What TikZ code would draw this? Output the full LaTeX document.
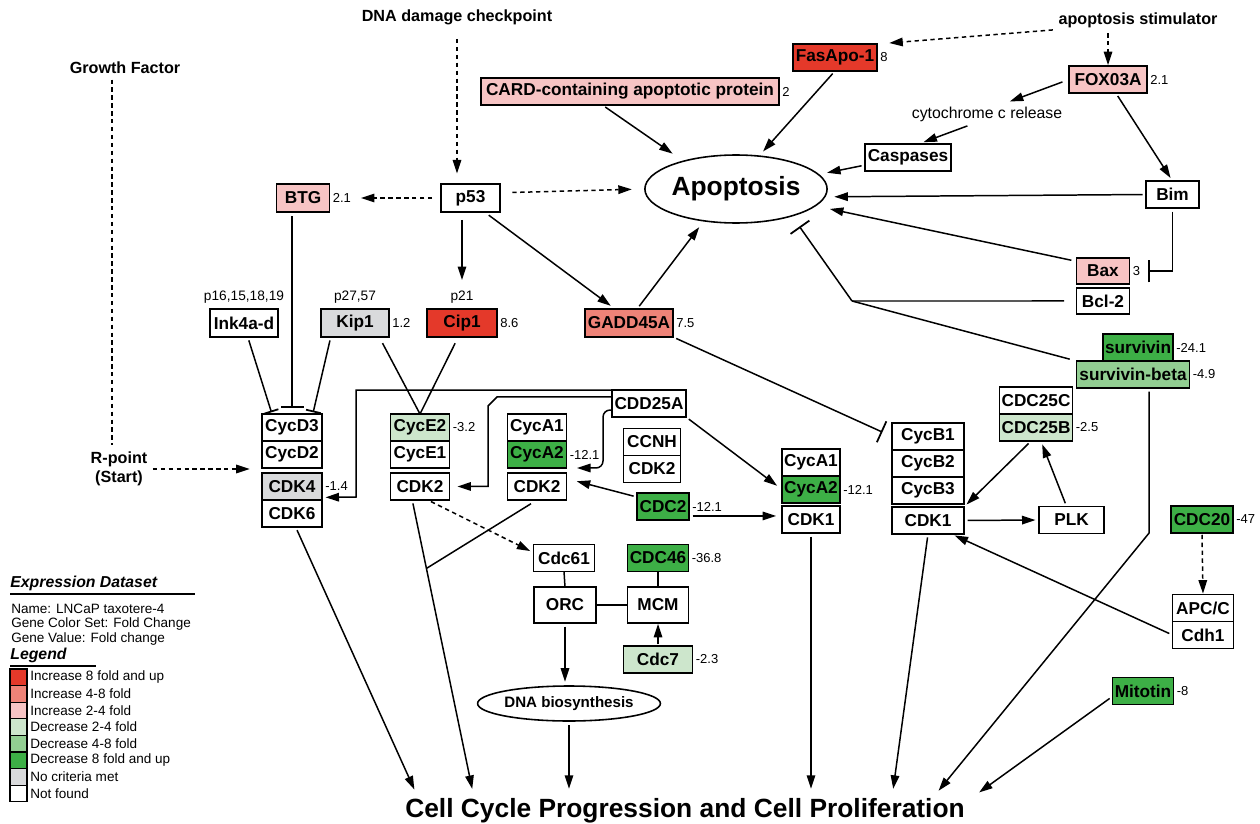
\documentclass[tikz,border=0pt]{standalone}
\usepackage{fontspec}
\setmainfont{Liberation Sans}
\usetikzlibrary{shapes.geometric, arrows.meta, positioning, calc}
\definecolor{upeight}{RGB}{228,57,42}
\definecolor{upfour}{RGB}{238,131,120}
\definecolor{uptwo}{RGB}{247,196,196}
\definecolor{downtwo}{RGB}{205,230,204}
\definecolor{downfour}{RGB}{146,206,146}
\definecolor{downeight}{RGB}{61,175,70}
\definecolor{nocrit}{RGB}{217,218,220}
\tikzset{
  gene/.style     = {rectangle, draw, line width=0.9pt, outer sep=0pt,
                     inner xsep=1pt, inner ysep=0pt, minimum height=0.54cm,
                     font=\fontsize{9.8}{11}\selectfont\bfseries},
  event/.style    = {ellipse, draw, line width=0.9pt, inner sep=0pt},
  cue/.style      = {inner sep=1pt, align=center,
                     font=\fontsize{9.2}{10.8}\selectfont\bfseries},
  note/.style     = {inner sep=1pt, font=\fontsize{9}{10}\selectfont},
  val/.style      = {inner sep=0.5pt, font=\fontsize{7.4}{8}\selectfont},
  tag/.style      = {inner sep=1pt, font=\fontsize{7.8}{9}\selectfont},
  arrow/.style    = {-{Triangle[length=2.7mm, width=1.7mm]}, line width=0.85pt,
                     shorten >=2pt, shorten <=2pt},
  darrow/.style   = {arrow, dash pattern=on 2.5pt off 2pt},
  link/.style     = {line width=0.85pt, shorten <=2pt},
  dline/.style    = {link, dash pattern=on 2.5pt off 2pt},
  inhibit/.style  = {-{Bar[width=4.6mm, line width=1pt]}, line width=0.85pt,
                     shorten >=2pt, shorten <=2pt},
  smallbar/.style = {inhibit, -{Bar[width=3mm, line width=1pt]}},
  swatch/.style   = {rectangle, draw, line width=0.6pt, outer sep=0pt,
                     inner sep=0pt, minimum width=0.34cm, minimum height=0.332cm},
  legtext/.style  = {inner sep=0pt, anchor=west, font=\fontsize{7.7}{9}\selectfont},
  legtitle/.style = {inner sep=0pt, anchor=west,
                     font=\fontsize{9}{10}\selectfont\bfseries\itshape},
  legrule/.style  = {line width=1.4pt}
}
\begin{document}
\begin{tikzpicture}[x=0.02cm, y=-0.02cm]
  \useasboundingbox (0,0) rectangle (1260,824);

  % upstream signals
  \node[cue]  (dnadmg) at (457,17)  {DNA damage checkpoint};
  \node[cue]  (growth) at (125,68)  {Growth Factor};
  \node[cue]  (stim)   at (1138,20) {apoptosis stimulator};
  \node[cue]  (rpoint) at (119,469) {R-point\\(Start)};
  \node[note] (cytc)   at (987,114) {cytochrome c release};

  % apoptosis branch
  \node[gene, fill=upeight, minimum width=1.68cm] (fas)  at (835,57.5)  {FasApo-1};
  \node[val]  (fasv)   [right=1.2pt of fas]   {8};
  \node[gene, fill=uptwo, minimum width=5.96cm]   (card) at (630,91.5)  {CARD-containing apoptotic protein};
  \node[val]  (cardv)  [right=1.2pt of card]  {2};
  \node[gene, fill=uptwo, minimum width=1.56cm]   (fox)  at (1108,79.5) {FOX03A};
  \node[val]  (foxv)   [right=1.2pt of fox]   {2.1};
  \node[gene, minimum width=1.72cm] (casp) at (908,157.5) {Caspases};
  \node[event, minimum width=3.26cm, minimum height=1.36cm,
        font=\fontsize{15}{17}\selectfont\bfseries] (apop) at (736,189) {Apoptosis};
  \node[gene, minimum width=1.06cm] (bim) at (1172.5,194.5) {Bim};
  \node[gene, fill=uptwo, minimum width=1.06cm, minimum height=0.52cm] (bax) at (1103,271) {Bax};
  \node[val]  (baxv)   [right=1.2pt of bax]   {3};
  \node[gene, minimum width=1.06cm, minimum height=0.52cm] (bcl) [below=0.08cm of bax] {Bcl-2};
  \node[gene, fill=downeight, minimum width=1.4cm] (surv) at (1138,347.5) {survivin};
  \node[val]  (survv)  [right=1.2pt of surv]  {-24.1};
  \node[gene, fill=downfour, minimum width=2.26cm] (survb) at (1133,374.5) {survivin-beta};
  \node[val]  (survbv) [right=1.2pt of survb] {-4.9};

  % p53 and the CDK inhibitors
  \node[gene, fill=uptwo, minimum width=1.06cm, minimum height=0.56cm] (btg) at (303,198) {BTG};
  \node[val]  (btgv)   [right=1.2pt of btg]   {2.1};
  \node[gene, minimum width=1.18cm, minimum height=0.56cm] (p53) at (470.5,198) {p53};
  \node[gene, minimum width=1.36cm, minimum height=0.56cm] (ink) at (244,323) {Ink4a-d};
  \node[tag]  (inkl)   [above=2pt of ink]     {p16,15,18,19};
  \node[gene, fill=nocrit, minimum width=1.36cm, minimum height=0.56cm] (kip) at (355,323) {Kip1};
  \node[tag]  (kipl)   [above=2pt of kip]     {p27,57};
  \node[val]  (kipv)   [right=1.2pt of kip]   {1.2};
  \node[gene, fill=upeight, minimum width=1.4cm, minimum height=0.56cm] (cip) at (462,323) {Cip1};
  \node[tag]  (cipl)   [above=2pt of cip]     {p21};
  \node[val]  (cipv)   [right=1.2pt of cip]   {8.6};
  \node[gene, fill=upfour, minimum width=1.76cm, minimum height=0.56cm] (gadd) at (629,323) {GADD45A};
  \node[val]  (gaddv)  [right=1.2pt of gadd]  {7.5};

  % G1/S complexes
  \node[gene, minimum width=1.2cm] (cycd3) at (292,427.5) {CycD3};
  \node[gene, minimum width=1.2cm] (cycd2) [below=0pt of cycd3] {CycD2};
  \node[gene, fill=nocrit, minimum width=1.2cm] (cdk4) [below=0.1cm of cycd2] {CDK4};
  \node[val]  (cdk4v)  [right=1.2pt of cdk4]  {-1.4};
  \node[gene, minimum width=1.2cm] (cdk6) [below=0pt of cdk4] {CDK6};

  \node[gene, fill=downtwo, minimum width=1.18cm] (cyce2) at (420,427.5) {CycE2};
  \node[val]  (cyce2v) [right=1.2pt of cyce2] {-3.2};
  \node[gene, minimum width=1.18cm] (cyce1) [below=0pt of cyce2] {CycE1};
  \node[gene, minimum width=1.18cm] (cdk2e) [below=0.1cm of cyce1] {CDK2};

  \node[gene, minimum width=1.18cm] (cyca1) at (537,427.5) {CycA1};
  \node[gene, fill=downeight, minimum width=1.18cm] (cyca2) [below=0pt of cyca1] {CycA2};
  \node[val]  (cyca2v) [right=1.2pt of cyca2] {-12.1};
  \node[gene, minimum width=1.18cm] (cdk2a) [below=0.1cm of cyca2] {CDK2};

  \node[gene, minimum width=1.14cm] (ccnh) at (652,442) {CCNH};
  \node[gene, minimum width=1.14cm] (cdk2h) [below=0pt of ccnh] {CDK2};

  \node[gene, minimum width=1.48cm] (cdd25a) at (649,403.5) {CDD25A};
  \node[gene, fill=downeight, minimum width=1.04cm] (cdc2) at (663,506.5) {CDC2};
  \node[val]  (cdc2v)  [right=1.2pt of cdc2]  {-12.1};

  % G2/M complexes
  \node[gene, minimum width=1.16cm] (cyca1r) at (811,462.5) {CycA1};
  \node[gene, fill=downeight, minimum width=1.16cm] (cyca2r) [below=0pt of cyca1r] {CycA2};
  \node[val]  (cyca2rv)[right=1.2pt of cyca2r]{-12.1};
  \node[gene, minimum width=1.16cm] (cdk1a) [below=0.06cm of cyca2r] {CDK1};

  \node[gene, minimum width=1.44cm] (cycb1) at (928,436.5) {CycB1};
  \node[gene, minimum width=1.44cm] (cycb2) [below=0pt of cycb1] {CycB2};
  \node[gene, minimum width=1.44cm] (cycb3) [below=0pt of cycb2] {CycB3};
  \node[gene, minimum width=1.44cm] (cdk1b) [below=0.06cm of cycb3] {CDK1};

  \node[gene, minimum width=1.46cm] (cdc25c) at (1036,400.5) {CDC25C};
  \node[gene, fill=downtwo, minimum width=1.46cm] (cdc25b) [below=0pt of cdc25c] {CDC25B};
  \node[val]  (cdc25bv)[right=1.2pt of cdc25b]{-2.5};
  \node[gene, minimum width=1.3cm] (plk) at (1071.5,520) {PLK};
  \node[gene, fill=downeight, minimum width=1.24cm] (cdc20) at (1202,519.5) {CDC20};
  \node[val]  (cdc20v) [right=1.2pt of cdc20] {-47};
  \node[gene, minimum width=1.22cm] (apc) at (1203,608) {APC/C};
  \node[gene, minimum width=1.22cm] (cdh1) [below=0pt of apc] {Cdh1};
  \node[gene, fill=downeight, minimum width=1.22cm] (mito) at (1143,691) {Mitotin};
  \node[val]  (mitov)  [right=1.2pt of mito]  {-8};

  % replication
  \node[gene, minimum width=1.22cm] (cdc61) at (564,558) {Cdc61};
  \node[gene, fill=downeight, minimum width=1.22cm] (cdc46) at (658,558) {CDC46};
  \node[val]  (cdc46v) [right=1.2pt of cdc46] {-36.8};
  \node[gene, minimum width=1.24cm, minimum height=0.72cm] (orc) at (565,605) {ORC};
  \node[gene, minimum width=1.22cm, minimum height=0.72cm] (mcm) at (658,605) {MCM};
  \node[gene, fill=downtwo, minimum width=1.38cm] (cdc7) at (658,659.5) {Cdc7};
  \node[val]  (cdc7v)  [right=1.2pt of cdc7]  {-2.3};
  \node[event, minimum width=2.92cm, minimum height=0.7cm,
        font=\fontsize{8.6}{10}\selectfont\bfseries] (dnabio) at (569,703.5) {DNA biosynthesis};
  \node[inner sep=0pt, anchor=base, font=\fontsize{15}{17}\selectfont\bfseries]
        (ccp) at (685,817) {Cell Cycle Progression and Cell Proliferation};

  % signal edges
  \draw[darrow, shorten <=7pt, shorten >=6pt] (dnadmg.south) -- (dnadmg.south |- p53.north);
  \draw[darrow, shorten >=7pt] (stim.south west) -- (fas.north east);
  \draw[darrow, shorten >=0.5pt] (stim.south -| fox.north) -- (fox.north);
  \draw[dline, shorten >=3pt] ($(growth.south)+(-13,0)$) -- ($(rpoint.north)+(-7,0)$);
  \draw[darrow, shorten >=7pt] (rpoint.east) -- (rpoint.east -| cycd2.west);

  % apoptosis edges
  \draw[arrow, shorten >=7pt] (card.206) -- (apop.152);
  \draw[arrow, shorten >=3pt] (fas.south) -- (apop.55);
  \draw[arrow, shorten <=4pt, shorten >=5pt] (fox.west) -- (cytc.33);
  \draw[arrow, shorten <=4pt, shorten >=3pt] (cytc.216) -- (casp.52);
  \draw[arrow] (fox.-60) -- (bim.north);
  \draw[arrow, shorten >=4.5pt] (casp.190) -- (apop.10);
  \draw[arrow, shorten >=5pt] (bim.west) -- (apop.-5);
  \draw[arrow, shorten <=3pt, shorten >=8pt] (bax.160) -- (apop.-12);
  \draw[inhibit, shorten >=4pt] (bim.south) |- (baxv.east);
  \coordinate (bcljoin) at (852,301);
  \draw[link, shorten <=7pt] (bcl.west) -- (bcljoin);
  \draw[link, shorten <=4pt] (survb.north west) -- (bcljoin);
  \draw[inhibit, shorten <=0pt, shorten >=7pt] (bcljoin) -- (apop.-26);

  % p53 edges
  \draw[darrow, shorten <=5pt, shorten >=5pt] (p53.west) -- (btgv.east);
  \draw[darrow, shorten <=7pt, shorten >=7pt] (p53.10) -- (apop.west);
  \draw[arrow, shorten <=4.5pt, shorten >=5pt] (p53.south -| cip.north) -- (cipl.north -| cip.north);
  \draw[arrow, shorten <=3pt, shorten >=3pt] (p53.-45) -- (gadd.135);
  \draw[arrow, shorten >=4pt] (gadd.60) -- (apop.-135);

  % inhibitors of G1
  \draw[inhibit, shorten <=2.5pt, shorten >=3.4pt] (btg.south -| cycd3.north) -- (cycd3.north);
  \draw[smallbar, shorten >=1pt] (ink.-75) -- (cycd3.146);
  \draw[smallbar, shorten >=1pt] (kip.210) -- (cycd3.33);
  \draw[link, shorten <=4pt] (kip.-30) -- (cyce2.north);
  \draw[link, shorten <=4pt] (cip.-105) -- (cyce2.north);

  % CDD25A and CDC2
  \draw[arrow, shorten <=0pt] (cdd25a.north west) -| ++(-256,107) -- (cdk4.-20);
  \draw[arrow, shorten <=0pt, shorten >=4.5pt] (cdd25a.170) -- ++(-115,0) -- ++(-9,9) |- (cdk2e.east);
  \draw[arrow, rounded corners=4pt, shorten <=0pt, shorten >=6pt] (cdd25a.190) -- ++(-9,0) |- (cyca2.south east);
  \draw[arrow, shorten >=3.5pt] (cdd25a.south east) -- (cyca2r.west);
  \draw[arrow, shorten >=6pt] (cdc2.160) -- (cdk2a.15);
  \draw[arrow, shorten >=3.4pt] (cdc2.-20) -- (cdc2.-20 -| cdk1a.west);
  \draw[inhibit, shorten >=6pt] (gadd.south east) -- (cycb1.west);

  % G2/M edges
  \draw[arrow] (cdk1b.east) -- (plk.west);
  \draw[arrow] (plk.110) -- (cdc25b.-70);
  \draw[arrow] (cdc25b.-110) -- (cdk1b.north east);
  \draw[darrow, shorten <=1pt, shorten >=0.5pt] (cdc20.south) -- (apc.north);
  \draw[arrow] (cdh1.west) -- (cdk1b.-30);

  % replication edges
  \draw[darrow] (cdk2e.-60) -- (cdc61.170);
  \draw[link, shorten <=0pt] (cdc61.south) -- (orc.north);
  \draw[link, shorten <=0pt] (cdc46.south) -- (mcm.north);
  \draw[link, shorten <=0pt] (orc.east) -- (mcm.west);
  \draw[arrow, shorten <=1pt, shorten >=0.5pt] (cdc7.north) -- (mcm.south);
  \draw[arrow] (orc.south) -- (orc.south |- dnabio.north);

  % into cell cycle progression
  \draw[arrow, shorten >=5pt] (cdk6.-75) -- ($(ccp.north)+(-267,0)$);
  \draw[arrow, shorten >=5pt] (cdk2e.-120) -- coordinate[pos=0.23] (cdk2join) ($(ccp.north)+(-211,0)$);
  \draw[link, shorten <=4pt] (cdk2a.south) -- (cdk2join);
  \draw[arrow, shorten >=5pt] (dnabio.south) -- (ccp.north -| dnabio.south);
  \draw[arrow, shorten >=5pt] (cdk1a.south) -- (ccp.north -| cdk1a.south);
  \draw[arrow, shorten >=5pt] (cdk1b.south) -- ($(ccp.north)+(207,0)$);
  \draw[arrow, shorten >=5pt] (survb.-40) -- ++(0,145) -- ($(ccp.north)+(248,0)$);
  \draw[arrow, shorten >=5pt] (mito.190) -- ($(ccp.north)+(287,0)$);

  % legend
  \node[legtitle] (exprt)  at (10,583) {Expression Dataset};
  \draw[legrule] (10,594) -- (195,594);
  \node[legtext]  (dsname) at (11,609) {Name: LNCaP taxotere-4};
  \node[legtext]  (dsset)  at (11,624) {Gene Color Set: Fold Change};
  \node[legtext]  (dsval)  at (11,639) {Gene Value: Fold change};
  \node[legtitle] (legt)   at (10,655) {Legend};
  \draw[legrule] (10,666) -- (96,666);
  \node[swatch, fill=upeight]   (sw1) at (18.5,677.3) {};
  \node[swatch, fill=upfour]    (sw2) [below=0pt of sw1] {};
  \node[swatch, fill=uptwo]     (sw3) [below=0pt of sw2] {};
  \node[swatch, fill=downtwo]   (sw4) [below=0pt of sw3] {};
  \node[swatch, fill=downfour]  (sw5) [below=0pt of sw4] {};
  \node[swatch, fill=downeight] (sw6) [below=0pt of sw5] {};
  \node[swatch, fill=nocrit]    (sw7) [below=0pt of sw6] {};
  \node[swatch, fill=white]     (sw8) [below=0pt of sw7] {};
  \node[legtext] (lt1) [right=0.06cm of sw1] {Increase 8 fold and up};
  \node[legtext] (lt2) [right=0.06cm of sw2] {Increase 4-8 fold};
  \node[legtext] (lt3) [right=0.06cm of sw3] {Increase 2-4 fold};
  \node[legtext] (lt4) [right=0.06cm of sw4] {Decrease 2-4 fold};
  \node[legtext] (lt5) [right=0.06cm of sw5] {Decrease 4-8 fold};
  \node[legtext] (lt6) [right=0.06cm of sw6] {Decrease 8 fold and up};
  \node[legtext] (lt7) [right=0.06cm of sw7] {No criteria met};
  \node[legtext] (lt8) [right=0.06cm of sw8] {Not found};
\end{tikzpicture}
\end{document}
